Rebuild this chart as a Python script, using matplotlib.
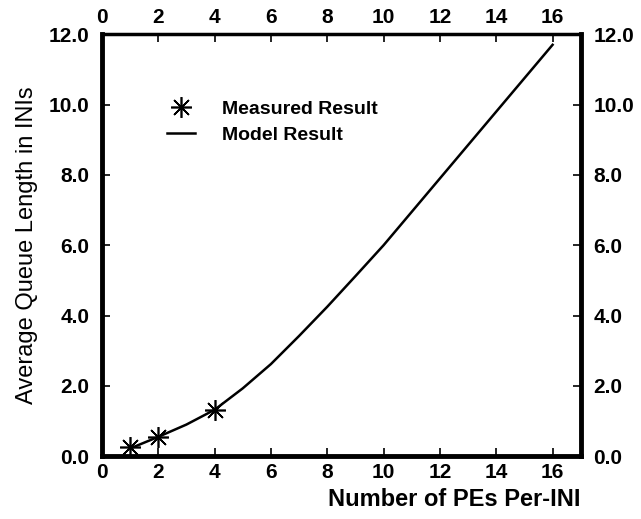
import matplotlib.pyplot as plt

plt.rcParams['font.family'] = ['Liberation Sans', 'DejaVu Sans']

# measured points
pes_measured = [1, 2, 4]
queue_measured = [0.25, 0.56, 1.30]

# model curve
pes_model = [1, 2, 3, 4, 5, 6, 7, 8, 9, 10, 11, 12, 13, 14, 15, 16]
queue_model = [0.22, 0.55, 0.9, 1.32, 1.93, 2.62, 3.42, 4.25, 5.12, 6.0,
               6.95, 7.9, 8.85, 9.8, 10.75, 11.7]

xticks = [0, 2, 4, 6, 8, 10, 12, 14, 16]
yticks = [0, 2, 4, 6, 8, 10, 12]

fig = plt.figure(figsize=(6.41, 5.19), dpi=100)
ax = fig.add_axes([0.159, 0.121, 0.747, 0.813])

ax.plot(pes_model, queue_model, color='black', lw=1.8, label='Model Result')
ax.plot(pes_measured, queue_measured, ls='none', marker=(8, 2, 0), ms=15,
        mew=1.2, color='black', label='Measured Result')

ax.set_xlim(0, 17)
ax.set_ylim(0, 12)
ax.set_xticks(xticks)
ax.set_yticks(yticks)
ax.set_yticklabels(['%.1f' % v for v in yticks])

for side in ['left', 'bottom', 'right']:
    ax.spines[side].set_linewidth(3.5)
ax.spines['top'].set_linewidth(2.5)

ax.tick_params(direction='in', length=6, width=1.2, labelsize=15,
               top=True, right=True, labeltop=True, labelright=True, pad=5)
for lab in ax.get_xticklabels() + ax.get_yticklabels():
    lab.set_fontweight('bold')
ax.tick_params(axis='y', pad=9)

ax.set_ylabel('Average Queue Length in INIs', fontsize=17, labelpad=8)
ax.set_xlabel('Number of PEs Per-INI', fontsize=17, fontweight='bold',
              loc='right', labelpad=4)

h, l = ax.get_legend_handles_labels()
ax.legend([h[1], h[0]], [l[1], l[0]], loc='upper left',
          bbox_to_anchor=(0.1, 0.885), frameon=False,
          prop={'weight': 'bold', 'size': 14}, handlelength=1.4,
          handletextpad=1.4, labelspacing=0.45)

fig.savefig('out.png', dpi=100)
